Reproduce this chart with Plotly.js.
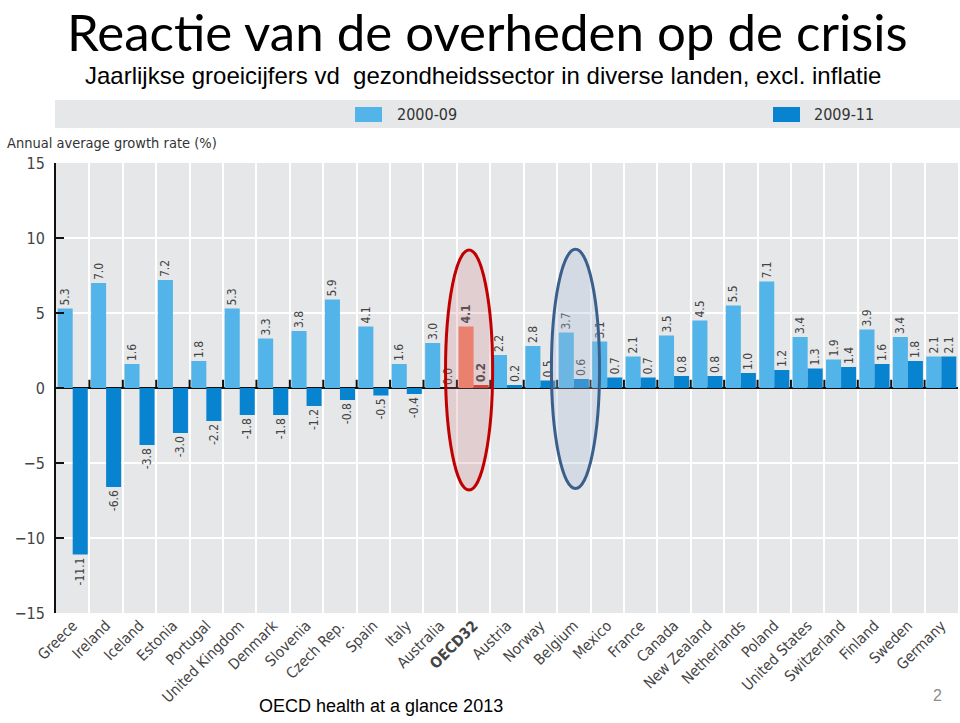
<!DOCTYPE html>
<html>
<head>
<meta charset="utf-8">
<script src="https://cdn.plot.ly/plotly-3.0.1.min.js"></script>
<style>html,body{margin:0;padding:0;background:#fff;}#chart{width:960px;height:723px;}</style>
</head>
<body>
<div id="chart"></div>
<script>
const countries = ["Greece","Ireland","Iceland","Estonia","Portugal","United Kingdom","Denmark","Slovenia","Czech Rep.","Spain","Italy","Australia","OECD32","Austria","Norway","Belgium","Mexico","France","Canada","New Zealand","Netherlands","Poland","United States","Switzerland","Finland","Sweden","Germany"];
const growth2000_09 = [5.3,7.0,1.6,7.2,1.8,5.3,3.3,3.8,5.9,4.1,1.6,3.0,4.1,2.2,2.8,3.7,3.1,2.1,3.5,4.5,5.5,7.1,3.4,1.9,3.9,3.4,2.1];
const growth2009_11 = [-11.1,-6.6,-3.8,-3.0,-2.2,-1.8,-1.8,-1.2,-0.8,-0.5,-0.4,0.0,0.2,0.2,0.5,0.6,0.7,0.7,0.8,0.8,1.0,1.2,1.3,1.4,1.6,1.8,2.1];
const seriesNames = ["2000-09","2009-11"];
const highlight = "OECD32";
const circled = "Belgium";

const narrow = "Liberation Sans Narrow, DejaVu Sans Condensed, Arial Narrow, sans-serif";
const lightBlue = "#52b4e8", darkBlue = "#0783cf";
const lightRed = "#f2846c", darkRed = "#d7352a";

const isHL = c => c === highlight;
const tmpl = c => isHL(c) ? "<b>%{y:.1f}</b>" : "%{y:.1f}";

const common = {
  type: "bar", x: countries, textposition: "outside", textangle: -90,
  constraintext: "none", cliponaxis: false, showlegend: false,
  texttemplate: countries.map(tmpl),
  textfont: {family: narrow, size: 12, color: "#444"},
  hoverinfo: "x+y"
};
const traces = [
  Object.assign({}, common, {name: seriesNames[0], y: growth2000_09,
    marker: {color: countries.map(c => isHL(c) ? lightRed : lightBlue)}}),
  Object.assign({}, common, {name: seriesNames[1], y: growth2009_11,
    marker: {color: countries.map(c => isHL(c) ? darkRed : darkBlue)}})
];

// pixel helpers for paper coordinates
const L = 56, R = 2, T = 163, B = 110, W = 960, H = 723;
const pw = W - L - R, ph = H - T - B;
const px = v => (v - L) / pw;
const py = v => 1 + (T - v) / ph;

const shapes = [];
shapes.push({type: "rect", xref: "paper", yref: "paper", x0: px(55), x1: px(960), y0: py(128), y1: py(100),
  fillcolor: "#e6e7e8", line: {width: 0}, layer: "below"});
shapes.push({type: "rect", xref: "paper", yref: "paper", x0: px(355), x1: px(382), y0: py(122), y1: py(107),
  fillcolor: lightBlue, line: {width: 0}});
shapes.push({type: "rect", xref: "paper", yref: "paper", x0: px(773), x1: px(800), y0: py(122), y1: py(107),
  fillcolor: darkBlue, line: {width: 0}});
// small tick marks on the zero line at category boundaries
for (let i = 1; i < countries.length; i++) {
  shapes.push({type: "line", xref: "x", yref: "y", x0: i - 0.5, x1: i - 0.5, y0: 0, y1: 0.55,
    line: {color: "#111", width: 2}});
}
const hi = countries.indexOf(highlight), ci = countries.indexOf(circled);
shapes.push({type: "circle", xref: "x", yref: "y", x0: hi - 0.84, x1: hi + 0.57, y0: -6.8, y1: 9.2,
  fillcolor: "rgba(205,120,125,0.22)", line: {color: "#c00000", width: 3}, layer: "above"});
shapes.push({type: "circle", xref: "x", yref: "y", x0: ci - 0.67, x1: ci + 0.77, y0: -6.7, y1: 9.25,
  fillcolor: "rgba(170,190,215,0.30)", line: {color: "#3b5f8c", width: 3}, layer: "above"});

const annotations = [
  {xref: "paper", yref: "paper", x: px(487), y: py(0), xanchor: "center", yanchor: "top", showarrow: false,
   borderpad: 0, text: "Reactie van de overheden op de crisis",
   font: {family: "Lato, Open Sans, sans-serif", size: 51, color: "#000"}},
  {xref: "paper", yref: "paper", x: px(483), y: py(76), xanchor: "center", yanchor: "middle", showarrow: false,
   text: "Jaarlijkse groeicijfers vd\u00a0 gezondheidssector in diverse landen, excl. inflatie",
   font: {family: "Liberation Sans, Arial, sans-serif", size: 24, color: "#000"}},
  {xref: "paper", yref: "paper", x: px(5), y: py(143), xanchor: "left", yanchor: "middle", showarrow: false,
   text: "Annual average growth rate (%)", font: {family: narrow, size: 14.5, color: "#333"}},
  {xref: "paper", yref: "paper", x: px(395), y: py(114.5), xanchor: "left", yanchor: "middle", showarrow: false,
   text: seriesNames[0], font: {family: narrow, size: 16, color: "#333"}},
  {xref: "paper", yref: "paper", x: px(812), y: py(114.5), xanchor: "left", yanchor: "middle", showarrow: false,
   text: seriesNames[1], font: {family: narrow, size: 16, color: "#333"}},
  {xref: "paper", yref: "paper", x: px(257), y: py(706), xanchor: "left", yanchor: "middle", showarrow: false,
   text: "OECD health at a glance 2013", font: {family: "Liberation Sans, Arial, sans-serif", size: 18, color: "#000"}},
  {xref: "paper", yref: "paper", x: px(937), y: py(695), xanchor: "center", yanchor: "middle", showarrow: false,
   text: "2", font: {family: "Liberation Sans, Arial, sans-serif", size: 16, color: "#8c8c8c"}}
];

const layout = {
  width: W, height: H,
  margin: {l: L, r: R, t: T, b: B, pad: 0},
  paper_bgcolor: "#fff", plot_bgcolor: "#e6e7e8",
  barmode: "group", bargap: 0.1, bargroupgap: 0,
  xaxis: {type: "category", tickson: "boundaries", showgrid: true, gridcolor: "#fff", gridwidth: 2,
          ticks: "", tickangle: -45, tickmode: "array", tickvals: countries,
          ticktext: countries.map(c => isHL(c) ? "<b>" + c + "</b>" : c),
          tickfont: {family: narrow, size: 15, color: "#444"}, showline: false, zeroline: false,
          range: [-0.5, countries.length - 0.5], fixedrange: true},
  yaxis: {range: [-15, 15], dtick: 5, tick0: 0, ticks: "inside", ticklen: 8, tickwidth: 2, tickcolor: "#111",
          showline: true, linecolor: "#111", linewidth: 2, showgrid: true, gridcolor: "#fff", gridwidth: 2,
          zeroline: true, zerolinecolor: "#111", zerolinewidth: 2,
          tickfont: {family: narrow, size: 16, color: "#444"}, ticklabelstandoff: 6, fixedrange: true},
  shapes: shapes, annotations: annotations
};

Plotly.newPlot("chart", traces, layout, {displayModeBar: false, staticPlot: true});
</script>
</body>
</html>
